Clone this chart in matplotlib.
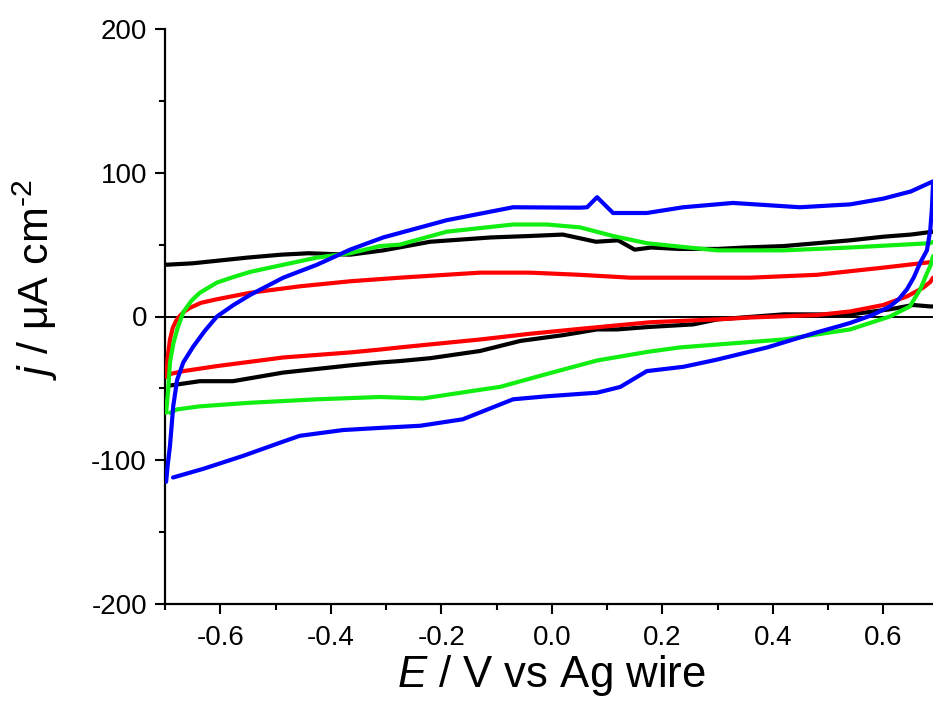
import matplotlib
matplotlib.use("Agg")
import matplotlib.pyplot as plt
from matplotlib.ticker import MultipleLocator

plt.rcParams['font.family'] = ['Liberation Sans', 'DejaVu Sans']
plt.rcParams['mathtext.fontset'] = 'custom'
plt.rcParams['mathtext.rm'] = 'Liberation Sans'
plt.rcParams['mathtext.it'] = 'Liberation Sans:italic'
plt.rcParams['axes.unicode_minus'] = False

# ---- data (E in V vs Ag wire, j in uA cm^-2) ----
black_up_E = [-0.698, -0.65, -0.6, -0.55, -0.49, -0.44, -0.365, -0.305, -0.22, -0.11, -0.04, 0.02,
              0.08, 0.12, 0.15, 0.18, 0.23, 0.30, 0.35, 0.42, 0.48, 0.54, 0.60, 0.65, 0.69]
black_up_j = [36, 37, 39, 41, 43, 44, 43, 46, 52, 55, 56, 57,
              52, 53, 46.5, 48, 47, 47, 48, 49, 51, 53, 55.5, 57, 59]
black_dn_E = [0.69, 0.685, 0.654, 0.612, 0.54, 0.42, 0.30, 0.256, 0.175, 0.118, 0.082, 0.02,
              -0.057, -0.13, -0.22, -0.275, -0.311, -0.365, -0.486, -0.577, -0.637, -0.691]
black_dn_j = [7, 7, 8, 5, 1.4, 1.5, -2, -5.5, -7.3, -9, -9, -13,
              -17, -24, -29, -31, -32, -34, -39, -45, -45, -48]

red_up_E = [-0.698, -0.695, -0.691, -0.686, -0.680, -0.673, -0.665, -0.655, -0.635, -0.606, -0.546,
            -0.456, -0.365, -0.275, -0.13, -0.039, 0.051, 0.142, 0.232, 0.359, 0.48, 0.60, 0.69]
red_up_j = [-42, -28, -16, -8, -3, 0.5, 3.5, 6, 9.5, 12, 16.5,
            21, 24.5, 27, 30.5, 30.5, 29, 27, 27, 27, 29, 34, 38]
red_dn_E = [0.69, 0.685, 0.672, 0.643, 0.60, 0.54, 0.48, 0.359, 0.30, 0.178, 0.051, -0.039,
            -0.13, -0.275, -0.311, -0.365, -0.486, -0.606, -0.667, -0.691, -0.698]
red_dn_j = [27, 24, 20, 14, 8, 3.5, 1, -0.7, -2, -4, -8.6, -12,
            -16, -21.5, -23, -25, -28.5, -34.5, -38, -40, -42]

green_up_E = [-0.698, -0.694, -0.691, -0.685, -0.678, -0.667, -0.652, -0.637, -0.606, -0.576,
              -0.546, -0.486, -0.425, -0.365, -0.311, -0.275, -0.19, -0.07, -0.009, 0.051, 0.111,
              0.172, 0.232, 0.299, 0.419, 0.54, 0.685, 0.69]
green_up_j = [-67, -50, -32, -19, -9, 3, 11, 16.5, 23.6, 27.5,
              31, 36, 41, 44, 49, 50, 59, 64, 64, 62, 56,
              51, 48.6, 46, 46, 48, 51, 52]
green_dn_E = [0.69, 0.686, 0.679, 0.667, 0.648, 0.612, 0.54, 0.419, 0.299, 0.232, 0.175, 0.082,
              -0.009, -0.094, -0.13, -0.233, -0.311, -0.425, -0.546, -0.637, -0.678, -0.691]
green_dn_j = [42, 36, 30, 19, 7, 0, -9, -16, -19.5, -21.5, -24.5, -30.6,
              -40, -49, -51, -57, -56, -57.6, -60, -62.5, -64.6, -67]

blue_up_E = [-0.698, -0.695, -0.691, -0.685, -0.678, -0.667, -0.649, -0.628, -0.606, -0.576,
             -0.546, -0.486, -0.425, -0.365, -0.305, -0.19, -0.07, 0.051, 0.064, 0.082, 0.111,
             0.172, 0.238, 0.328, 0.449, 0.54, 0.60, 0.65, 0.69]
blue_up_j = [-115, -103, -90, -62, -44, -32, -21, -10, 0, 8,
             15, 27, 36, 46.5, 55, 67, 76, 75.7, 76, 83, 72,
             72, 76, 79, 76, 78, 82, 87, 94]
blue_dn_E = [0.69, 0.688, 0.685, 0.679, 0.667, 0.655, 0.643, 0.628, 0.612, 0.58, 0.54, 0.522,
             0.48, 0.39, 0.299, 0.238, 0.172, 0.124, 0.082, -0.009, -0.07, -0.161, -0.238,
             -0.311, -0.378, -0.456, -0.486, -0.559, -0.631, -0.6855]
blue_dn_j = [92, 75, 60, 46, 37.5, 27, 19, 12, 7, 1, -4.5, -6.5,
             -11, -21.5, -30, -35, -38, -49, -53, -55.5, -57.6, -71.5, -76,
             -77.5, -79, -83, -87, -97, -106, -112]

x_ticks = [-0.6, -0.4, -0.2, 0.0, 0.2, 0.4, 0.6]
y_ticks = [-200, -100, 0, 100, 200]

fig = plt.figure(figsize=(9.33, 7.18), dpi=100)
ax = fig.add_axes([165/933, 1 - 604/718, 1 - 165/933, (604 - 29)/718])

lw = 3.0
ax.axhline(0, color='black', lw=1.4, zorder=1)
series = [
    (black_up_E, black_up_j, black_dn_E, black_dn_j, 'black'),
    (red_up_E, red_up_j, red_dn_E, red_dn_j, '#ff0000'),
    (green_up_E, green_up_j, green_dn_E, green_dn_j, '#11ee11'),
    (blue_up_E, blue_up_j, blue_dn_E, blue_dn_j, '#0000ff'),
]
for z, (ue, uj, de, dj, c) in enumerate(series):
    ax.plot(ue, uj, color=c, lw=lw, zorder=2 + z, solid_joinstyle='round', solid_capstyle='round')
    ax.plot(de, dj, color=c, lw=lw, zorder=2 + z, solid_joinstyle='round', solid_capstyle='round')

ax.set_xlim(-0.7, 0.69)
ax.set_ylim(-200, 200)
ax.set_xticks(x_ticks)
ax.set_xticklabels([f"{v:.1f}" for v in x_ticks])
ax.set_yticks(y_ticks)
ax.set_yticklabels([str(v) for v in y_ticks])
ax.xaxis.set_minor_locator(MultipleLocator(0.1))
ax.yaxis.set_minor_locator(MultipleLocator(50))

for s in ['top', 'right']:
    ax.spines[s].set_visible(False)
for s in ['left', 'bottom']:
    ax.spines[s].set_linewidth(1.6)

ax.tick_params(which='major', direction='out', length=7, width=1.5, labelsize=20, pad=6)
ax.tick_params(which='minor', direction='out', length=4.5, width=1.5)
ax.tick_params(axis='x', which='major', pad=8)

fig.text(551/933, 1 - 676/718, r"$E$ / V vs Ag wire", fontsize=31.5, ha='center', va='center')
fig.text(35/933, 1 - 280/718, r"$j$ / μA cm$^{\text{-}2}$", fontsize=31, ha='center', va='center',
         rotation=90)

fig.savefig('out.png', dpi=100)
